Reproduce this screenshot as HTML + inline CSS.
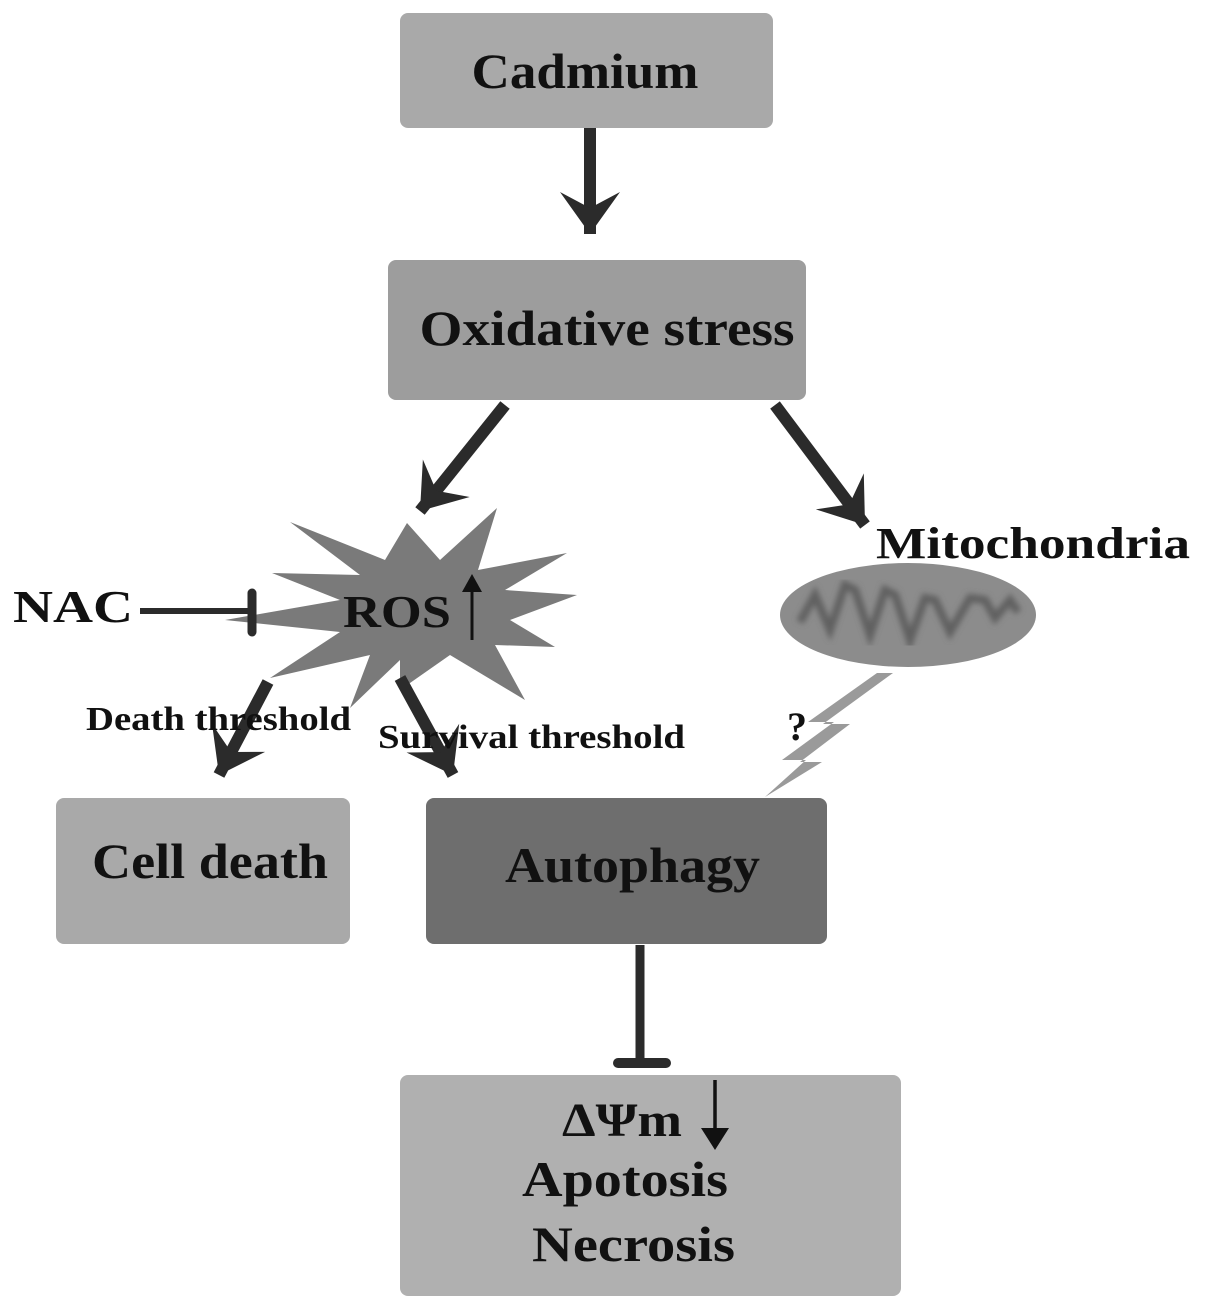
<!DOCTYPE html>
<html><head><meta charset="utf-8"><style>
html,body{margin:0;padding:0;background:#fff;}
svg{display:block;}
text{font-family:"Liberation Serif",serif;font-weight:bold;fill:#111;}
</style></head><body>
<svg width="1205" height="1309" viewBox="0 0 1205 1309" xmlns="http://www.w3.org/2000/svg">
<defs>
<marker id="ah" markerUnits="userSpaceOnUse" markerWidth="80" markerHeight="80" refX="0" refY="0" viewBox="-50 -40 60 80" orient="auto" overflow="visible">
<path d="M0,0 L-42,-30 L-26,0 L-42,30 Z" fill="#2b2b2b"/>
</marker>
<filter id="bl"><feGaussianBlur stdDeviation="3"/></filter>
</defs>
<!-- boxes -->
<rect x="400" y="13" width="373" height="115" rx="8" fill="#a9a9a9"/>
<rect x="388" y="260" width="418" height="140" rx="8" fill="#9d9d9d"/>
<rect x="56" y="798" width="294" height="146" rx="8" fill="#a9a9a9"/>
<rect x="426" y="798" width="401" height="146" rx="8" fill="#6e6e6e"/>
<rect x="400" y="1075" width="501" height="221" rx="8" fill="#b0b0b0"/>
<!-- star -->
<polygon fill="#7a7a7a" points="407,523 440,560 497,508 478,570 567,553 505,590 577,595 510,620 555,647 495,645 525,700 450,655 400,690 400,660 350,708 370,655 270,678 340,632 225,620 340,600 272,573 360,575 290,522 385,560"/>
<!-- arrows -->
<g stroke="#2b2b2b" stroke-width="12" fill="none">
<line x1="590" y1="128" x2="590" y2="234" marker-end="url(#ah)"/>
<line x1="505" y1="405" x2="420" y2="511" marker-end="url(#ah)"/>
<line x1="775" y1="405" x2="865" y2="525" marker-end="url(#ah)"/>
<line x1="268" y1="682" x2="219" y2="775" marker-end="url(#ah)"/>
<line x1="400" y1="678" x2="453" y2="775" marker-end="url(#ah)"/>
<line x1="140" y1="611" x2="252" y2="611" stroke-width="6"/>
<line x1="252" y1="593" x2="252" y2="632" stroke-width="9" stroke-linecap="round"/>
<line x1="640" y1="945" x2="640" y2="1063" stroke-width="9"/>
<line x1="618" y1="1063" x2="666" y2="1063" stroke-width="10" stroke-linecap="round"/>
</g>
<!-- mitochondria -->
<ellipse cx="908" cy="615" rx="128" ry="52" fill="#8c8c8c"/>
<path d="M800,622 L815,595 L830,630 L845,585 L855,590 L870,635 L885,590 L895,595 L910,640 L925,598 L935,600 L950,632 L970,598 L985,600 L995,618 L1010,600 L1018,612" stroke="#606060" stroke-width="8" fill="none" filter="url(#bl)"/>
<!-- lightning -->
<polygon fill="#9a9a9a" points="893,673 877,673 808,722 834,722 782,760 806,760 765,797 822,762 800,762 850,724 823,724"/>
<!-- text -->
<text x="585" y="88" font-size="50" text-anchor="middle" textLength="227" lengthAdjust="spacingAndGlyphs">Cadmium</text>
<text x="607" y="345" font-size="50" text-anchor="middle" textLength="375" lengthAdjust="spacingAndGlyphs">Oxidative stress</text>
<text x="876" y="558" font-size="44" textLength="314" lengthAdjust="spacingAndGlyphs">Mitochondria</text>
<text x="13" y="622" font-size="46" font-weight="normal" textLength="120" lengthAdjust="spacingAndGlyphs">NAC</text>
<text x="343" y="627" font-size="46" font-weight="normal" textLength="108" lengthAdjust="spacingAndGlyphs">ROS</text>
<line x1="472" y1="640" x2="472" y2="585" stroke="#111" stroke-width="3"/>
<polygon points="472,574 462,592 482,592" fill="#111"/>
<text x="86" y="730" font-size="34" textLength="265" lengthAdjust="spacingAndGlyphs">Death threshold</text>
<text x="378" y="748" font-size="34" textLength="307" lengthAdjust="spacingAndGlyphs">Survival threshold</text>
<text x="787" y="740" font-size="40">?</text>
<text x="92" y="878" font-size="50" textLength="236" lengthAdjust="spacingAndGlyphs">Cell death</text>
<text x="505" y="882" font-size="50" textLength="255" lengthAdjust="spacingAndGlyphs">Autophagy</text>
<text x="562" y="1136" font-size="48" textLength="120" lengthAdjust="spacingAndGlyphs">ΔΨm</text>
<line x1="715" y1="1080" x2="715" y2="1135" stroke="#111" stroke-width="3.5"/>
<polygon points="715,1150 701,1128 729,1128" fill="#111"/>
<text x="522" y="1196" font-size="50" textLength="206" lengthAdjust="spacingAndGlyphs">Apotosis</text>
<text x="532" y="1261" font-size="50" textLength="203" lengthAdjust="spacingAndGlyphs">Necrosis</text>
</svg>
</body></html>
